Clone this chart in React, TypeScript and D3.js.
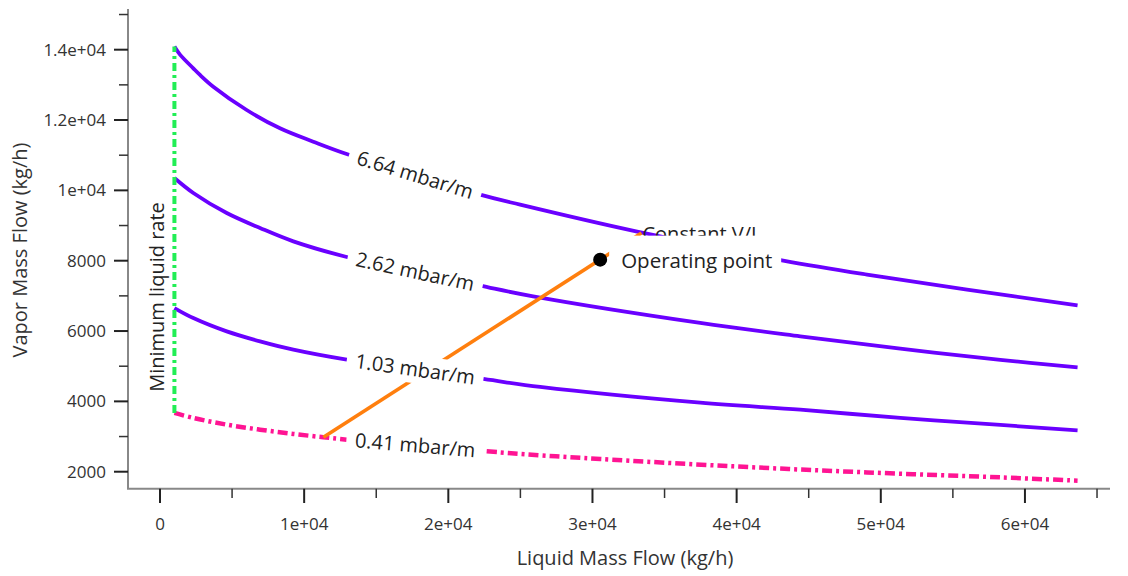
import React from 'react';
import * as d3 from 'd3';

// ---- data ----
const xTicksMajor = [0, 10000, 20000, 30000, 40000, 50000, 60000];
const xTickLabels = ['0', '1e+04', '2e+04', '3e+04', '4e+04', '5e+04', '6e+04'];
const xTicksMinor = [5000, 15000, 25000, 35000, 45000, 55000, 65000];
const yTicksMajor = [2000, 4000, 6000, 8000, 10000, 12000, 14000];
const yTickLabels = ['2000', '4000', '6000', '8000', '1e+04', '1.2e+04', '1.4e+04'];
const yTicksMinor = [3000, 5000, 7000, 9000, 11000, 13000, 15000];

const L664 = [1000, 1387, 2311, 2775, 3697, 6014, 8324, 10634, 12951, 22207, 24983, 33102, 43234, 49040, 55980, 63650];
const V664 = [14090, 13860, 13470, 13281, 12948, 12285, 11765, 11384, 11034, 9878, 9593, 8826, 8001, 7603, 7177, 6730];

const L262 = [1000, 2311, 4629, 6940, 9250, 12956, 22207, 25885, 37474, 44414, 51353, 58293, 63650];
const V262 = [10352, 9926, 9357, 8931, 8550, 8106, 7290, 6986, 6230, 5850, 5500, 5180, 4968];

const L103 = [1000, 2311, 4629, 6940, 9250, 12956, 22436, 26370, 37474, 44414, 51353, 58293, 63650];
const V103 = [6654, 6370, 5991, 5707, 5471, 5187, 4638, 4410, 3963, 3765, 3528, 3330, 3176];

const L041 = [1000, 2311, 4629, 6940, 9250, 11333, 12956, 22672, 26370, 30534, 39785, 49043, 58293, 63650];
const V041 = [3671, 3529, 3338, 3196, 3075, 2980, 2912, 2580, 2466, 2361, 2152, 1981, 1839, 1745];

const curveLabels = ['6.64 mbar/m', '2.62 mbar/m', '1.03 mbar/m', '0.41 mbar/m'];
const labelL = 17700;

const minLiquidL = [1000, 1000];
const minLiquidV = [3671, 14090];

const vlLineL = [11333, 33400];
const vlLineV = [2980, 8785];

const opL = 30534;
const opV = 8030;

// ---- layout ----
const W = 1128;
const H = 576;
const FONT = "'Segoe UI', 'Open Sans', sans-serif";
const PURPLE = '#6a00ff';
const PINK = '#ff1493';
const GREEN = '#22ee55';
const ORANGE = '#ff7f0e';

const x = d3.scaleLinear().domain([-2220, 65900]).range([128, 1110]);
const y = d3.scaleLinear().domain([1517, 15157]).range([488.7, 9]);

const line = d3
  .line<[number, number]>()
  .x((d) => x(d[0]))
  .y((d) => y(d[1]))
  .curve(d3.curveCatmullRom.alpha(0.5));

const straight = d3
  .line<[number, number]>()
  .x((d) => x(d[0]))
  .y((d) => y(d[1]));

const zip = (a: number[], b: number[]) => a.map((v, i) => [v, b[i]] as [number, number]);

function labelPos(L: number[], V: number[], at: number) {
  let i = 0;
  while (i < L.length - 2 && L[i + 1] < at) i++;
  const x0 = x(L[i]), y0 = y(V[i]), x1 = x(L[i + 1]), y1 = y(V[i + 1]);
  const t = (x(at) - x0) / (x1 - x0);
  return {
    cx: x0 + t * (x1 - x0),
    cy: y0 + t * (y1 - y0),
    angle: (Math.atan2(y1 - y0, x1 - x0) * 180) / Math.PI,
  };
}

export default function App() {
  const curves = [
    { L: L664, V: V664, color: PURPLE, dash: undefined, w: 3.8 },
    { L: L262, V: V262, color: PURPLE, dash: undefined, w: 3.8 },
    { L: L103, V: V103, color: PURPLE, dash: undefined, w: 3.8 },
    { L: L041, V: V041, color: PINK, dash: '10 4 3 4', w: 4.5 },
  ];
  const opx = x(opL);
  const opy = y(opV);
  const ex = x(vlLineL[1]);
  const ey = y(vlLineV[1]);

  return (
    <svg
      width={W}
      height={H}
      style={{ position: 'absolute', left: 0, top: 0, background: '#fff' }}
      fontFamily={FONT}
    >
      <rect x={0} y={0} width={W} height={H} fill="#fff" />
      {/* axes */}
      <line x1={128} x2={128} y1={9} y2={488.7} stroke="#888" strokeWidth={2} />
      <line x1={127} x2={1110} y1={488.7} y2={488.7} stroke="#888" strokeWidth={2} />
      {yTicksMajor.map((t, i) => (
        <g key={'ym' + t}>
          <line x1={114} x2={128} y1={y(t)} y2={y(t)} stroke="#222" strokeWidth={2} />
          <text x={106} y={y(t)} dy="0.35em" textAnchor="end" fontSize={17} fill="#333">
            {yTickLabels[i]}
          </text>
        </g>
      ))}
      {yTicksMinor.map((t) => (
        <line key={'yn' + t} x1={119} x2={128} y1={y(t)} y2={y(t)} stroke="#333" strokeWidth={1.5} />
      ))}
      {xTicksMajor.map((t, i) => (
        <g key={'xm' + t}>
          <line x1={x(t)} x2={x(t)} y1={488.7} y2={503} stroke="#222" strokeWidth={2} />
          <text x={x(t)} y={530} textAnchor="middle" fontSize={17} fill="#333">
            {xTickLabels[i]}
          </text>
        </g>
      ))}
      {xTicksMinor.map((t) => (
        <line key={'xn' + t} x1={x(t)} x2={x(t)} y1={488.7} y2={498} stroke="#333" strokeWidth={1.5} />
      ))}
      <text x={625} y={565} textAnchor="middle" fontSize={20} fill="#333">
        Liquid Mass Flow (kg/h)
      </text>
      <text
        transform={`translate(27,250) rotate(-90)`}
        textAnchor="middle"
        fontSize={20}
        fill="#333"
      >
        Vapor Mass Flow (kg/h)
      </text>

      {/* curves */}
      {curves.map((c, i) => (
        <path
          key={'c' + i}
          d={line(zip(c.L, c.V)) || ''}
          fill="none"
          stroke={c.color}
          strokeWidth={c.w}
          strokeDasharray={c.dash}
        />
      ))}
      <path
        d={straight(zip(minLiquidL, minLiquidV)) || ''}
        fill="none"
        stroke={GREEN}
        strokeWidth={4}
        strokeDasharray="8 4 3 4"
      />
      <path d={straight(zip(vlLineL, vlLineV)) || ''} fill="none" stroke={ORANGE} strokeWidth={3.6} />

      {/* curve labels */}
      {curves.map((c, i) => {
        const p = labelPos(c.L, c.V, labelL);
        return (
          <g key={'lb' + i} transform={`translate(${p.cx},${p.cy}) rotate(${p.angle})`}>
            <rect x={-69} y={-14} width={138} height={28} fill="#fff" />
            <text x={0} y={0} dy="0.35em" textAnchor="middle" fontSize={20} fill="#222">
              {curveLabels[i]}
            </text>
          </g>
        );
      })}

      <text
        transform={`translate(164,297) rotate(-90)`}
        textAnchor="middle"
        fontSize={20}
        fill="#222"
      >
        Minimum liquid rate
      </text>

      <text x={ex + 1} y={ey + 8} fontSize={20} fill="#222">
        Constant V/L
      </text>
      <rect x={opx + 9} y={opy - 24} width={172} height={50} fill="#fff" />
      <circle cx={opx} cy={opy} r={7} fill="#000" />
      <text x={opx + 21} y={opy + 8} fontSize={20.5} fill="#222">
        Operating point
      </text>
    </svg>
  );
}
